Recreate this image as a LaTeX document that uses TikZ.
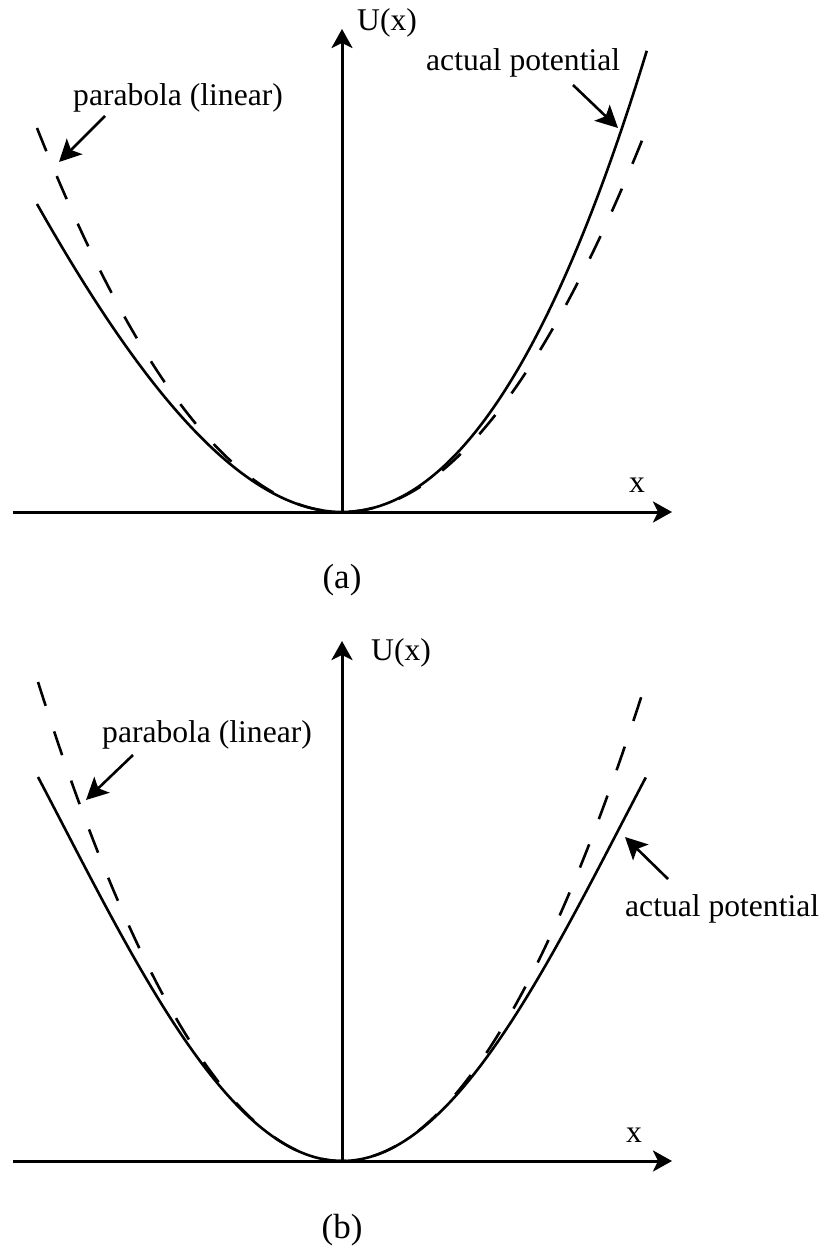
\documentclass[tikz,border=0pt]{standalone}
\usepackage{fontspec}
\setmainfont{Liberation Serif}
\usetikzlibrary{arrows.meta}
\begin{document}
\begin{tikzpicture}[x=1pt,y=-1pt,
  lbl/.style={inner sep=0pt,font=\fontsize{31.6}{38}\selectfont},
  captionlbl/.style={inner sep=0pt,font=\fontsize{35}{42}\selectfont},
  axis/.style={line width=3pt,-{Stealth[length=19pt,width=21pt,inset=5pt]}},
  curve/.style={line width=2.6pt,line join=round},
  approx/.style={line width=2.6pt,dash pattern=on 25pt off 27pt},
  pointer/.style={line width=2.6pt,-{Stealth[length=22pt,width=22pt,inset=5pt]}}]
\useasboundingbox (0,0) rectangle (826,1249);

% ---------- panel (a) ----------
\coordinate (aO) at (342,512);
\coordinate (aL) at (13,512);
\coordinate (aR) at (672,512);
\coordinate (aT) at (342,29);
\draw[axis] (aL) -- (aR);
\draw[axis] (aO) -- (aT);
\draw[curve] plot[domain=-1:1,samples=120,smooth] ({342+305*\x},{512-385*\x*\x-77*\x*\x*\x});
\draw[approx] plot[domain=-1:1,samples=120,smooth] ({342+305*\x},{512-384*\x*\x});
\node[lbl,anchor=base west] (aU) at (357,31) {U(x)};
\node[lbl,anchor=base] (aX) at (637,492) {x};
\node[captionlbl,anchor=base] (aCap) at (342,588) {(a)};
\node[lbl,anchor=base west] (aPar) at (73,106) {parabola (linear)};
\node[lbl,anchor=base west] (aAct) at (426,71) {actual potential};
\coordinate (aParS) at (105,116);
\coordinate (aParE) at (59,162);
\coordinate (aActS) at (573,85);
\coordinate (aActE) at (618,128);
\draw[pointer] (aParS) -- (aParE);
\draw[pointer] (aActS) -- (aActE);

% ---------- panel (b) ----------
\coordinate (bO) at (342,1161);
\coordinate (bL) at (13,1161);
\coordinate (bR) at (672,1161);
\coordinate (bT) at (342,641);
\draw[axis] (bL) -- (bR);
\draw[axis] (bO) -- (bT);
\draw[curve] plot[domain=-1:1,samples=120,smooth] ({342+304*\x},{1161-479*\x*\x+95*\x*\x*\x*\x});
\draw[approx] plot[domain=-1:1,samples=120,smooth] ({342+304*\x},{1161-479*\x*\x});
\node[lbl,anchor=base west] (bU) at (371,660) {U(x)};
\node[lbl,anchor=base] (bX) at (634,1142) {x};
\node[captionlbl,anchor=base] (bCap) at (342,1238) {(b)};
\node[lbl,anchor=base west] (bPar) at (102,742) {parabola (linear)};
\node[lbl,anchor=base west] (bAct) at (625,916) {actual potential};
\coordinate (bParS) at (133,755);
\coordinate (bParE) at (86,800);
\coordinate (bActS) at (668,879);
\coordinate (bActE) at (625,837);
\draw[pointer] (bParS) -- (bParE);
\draw[pointer] (bActS) -- (bActE);
\end{tikzpicture}
\end{document}
